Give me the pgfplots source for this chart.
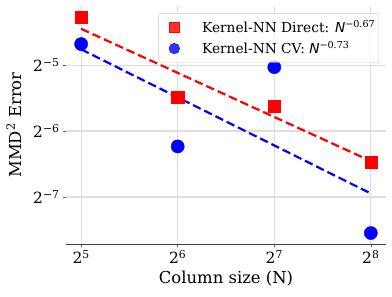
\documentclass[border=0pt]{standalone}
\usepackage{pgfplots}
\pgfplotsset{compat=1.18}
\usepackage{fontspec}
\setmainfont{DejaVu Serif}
\setsansfont{DejaVu Sans}
\begin{document}
\begin{tikzpicture}
\begin{axis}[
  name=ax,
  scale only axis,
  width=320bp, height=238bp,
  xmode=log, ymode=log, log basis x=2, log basis y=2,
  xmin=28.7, xmax=285.5,
  ymin=0.004768, ymax=0.0582,
  xtick={32,64,128,256},
  xticklabels={2\textsuperscript{5},2\textsuperscript{6},2\textsuperscript{7},2\textsuperscript{8}},
  ytick={0.03125,0.015625,0.0078125},
  yticklabels={2\textsuperscript{−5},2\textsuperscript{−6},2\textsuperscript{−7}},
  minor xtick={}, minor ytick={},
  axis x line*=bottom, axis y line*=left,
  y axis line style={draw=none},
  x axis line style={draw=black!75, line width=0.8pt, -},
  tick style={black!60, line width=0.6pt},
  major tick length=3bp,
  tick align=outside,
  xtick pos=bottom, ytick pos=left,
  grid=major,
  major grid style={line width=1.3pt, draw=black!13},
  tick label style={font=\fontsize{15.5}{17}\selectfont},
  label style={font=\fontsize{16.5}{18}\selectfont},
  xlabel={Column size (N)},
  ylabel={MMD\textsuperscript{2} Error},
  ylabel shift=5bp,
  legend style={at={(0.978,0.97)}, anchor=north east, draw=black!20, rounded corners=2pt,
    fill=white, fill opacity=0.8, text opacity=1, font=\fontsize{13.8}{16}\selectfont,
    row sep=3.5pt, column sep=22bp, inner xsep=3pt, inner ysep=5pt,
    nodes={inner xsep=0.5pt}},
  legend image code/.code={%
    \path[draw=none] (0cm,0cm) -- (0.6cm,0cm);
    \draw[#1, mark size=5.3bp] plot coordinates {(0.45cm,0cm)};},
  legend cell align=left,
  clip=false,
]
\addplot[only marks, mark=square*, mark size=6.1bp, color=red] coordinates {
  (32,0.0518) (64,0.0223) (128,0.0203) (256,0.0113)
};
\addlegendentry{Kernel-NN Direct: \textsf{\itshape N}\textsuperscript{−0.67}}
\addplot[only marks, mark=*, mark size=6.6bp, color=blue] coordinates {
  (32,0.0390) (64,0.0133) (128,0.0306) (256,0.00535)
};
\addlegendentry{Kernel-NN CV: \textsf{\itshape N}\textsuperscript{−0.73}}
\addplot[forget plot, red, line width=2.2pt, dash pattern=on 8.5bp off 4bp] coordinates {
  (32,0.0458) (256,0.0114)
};
\addplot[forget plot, blue, line width=2.2pt, dash pattern=on 8.5bp off 4bp] coordinates {
  (32,0.0369) (256,0.00811)
};
\end{axis}
\pgfresetboundingbox
\path[use as bounding box] ([xshift=-66bp,yshift=-53bp]ax.south west) rectangle ([xshift=6bp,yshift=6bp]ax.north east);
\end{tikzpicture}
\end{document}
